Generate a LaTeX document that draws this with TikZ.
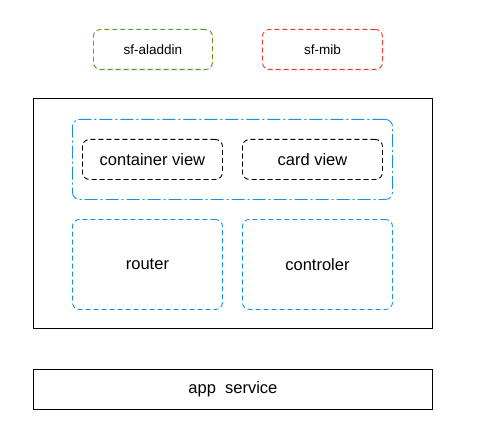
\documentclass[tikz,border=0pt]{standalone}
\usepackage{fontspec}
\setmainfont{Liberation Sans}
\usetikzlibrary{shadows}
\definecolor{myblue}{HTML}{1A8FE8}
\definecolor{mygreen}{HTML}{5E9B1E}
\definecolor{myred}{HTML}{F03C2E}
\begin{document}
\begin{tikzpicture}[x=1pt,y=-1pt,
  rbox/.style={rounded corners=7pt,line width=0.9pt, dash pattern=on 5pt off 3pt,anchor=north west,inner sep=0pt},
  lbl/.style={font=\fontsize{16.5}{18}\selectfont},
  sml/.style={font=\fontsize{13.5}{15}\selectfont},
  shd/.style={fill=white,drop shadow={opacity=0.12,shadow xshift=1pt,shadow yshift=-1.5pt}}]
\useasboundingbox (0,0) rectangle (498,433);
% top boxes
\node[draw=mygreen,rbox,sml,shd,minimum width=119pt,minimum height=40pt] (ala) at (93,29) {sf-aladdin};
\node[draw=myred,rbox,sml,shd,minimum width=120pt,minimum height=40pt] (mib) at (262,29) {sf-mib};
% outer
\node[draw=black,line width=0.9pt,minimum width=399pt,minimum height=230pt,anchor=north west,inner sep=0pt] (outer) at (33,98) {};
% dash-dot group
\node[draw=myblue,line width=0.9pt,rounded corners=7pt,dash pattern=on 13pt off 3pt on 2pt off 3pt,
  minimum width=320pt,minimum height=80pt,anchor=north west,inner sep=0pt] (grp) at (72,119) {};
\node[draw=black,rbox,lbl,minimum width=140pt,minimum height=40pt] (cont) at (82,139) {container view};
\node[draw=black,rbox,lbl,minimum width=140pt,minimum height=40pt] (card) at (242,139) {card view};
% router / controler
\node[draw=myblue,rbox,lbl,minimum width=150pt,minimum height=90pt] (router) at (72,219) {router};
\node[draw=myblue,rbox,lbl,minimum width=150pt,minimum height=90pt] (ctrl) at (242,219) {controler};
% app service
\node[draw=black,line width=0.9pt,lbl,minimum width=399pt,minimum height=40pt,anchor=north west,inner sep=0pt] (app) at (33,369) {app\ \ service};
\end{tikzpicture}
\end{document}
